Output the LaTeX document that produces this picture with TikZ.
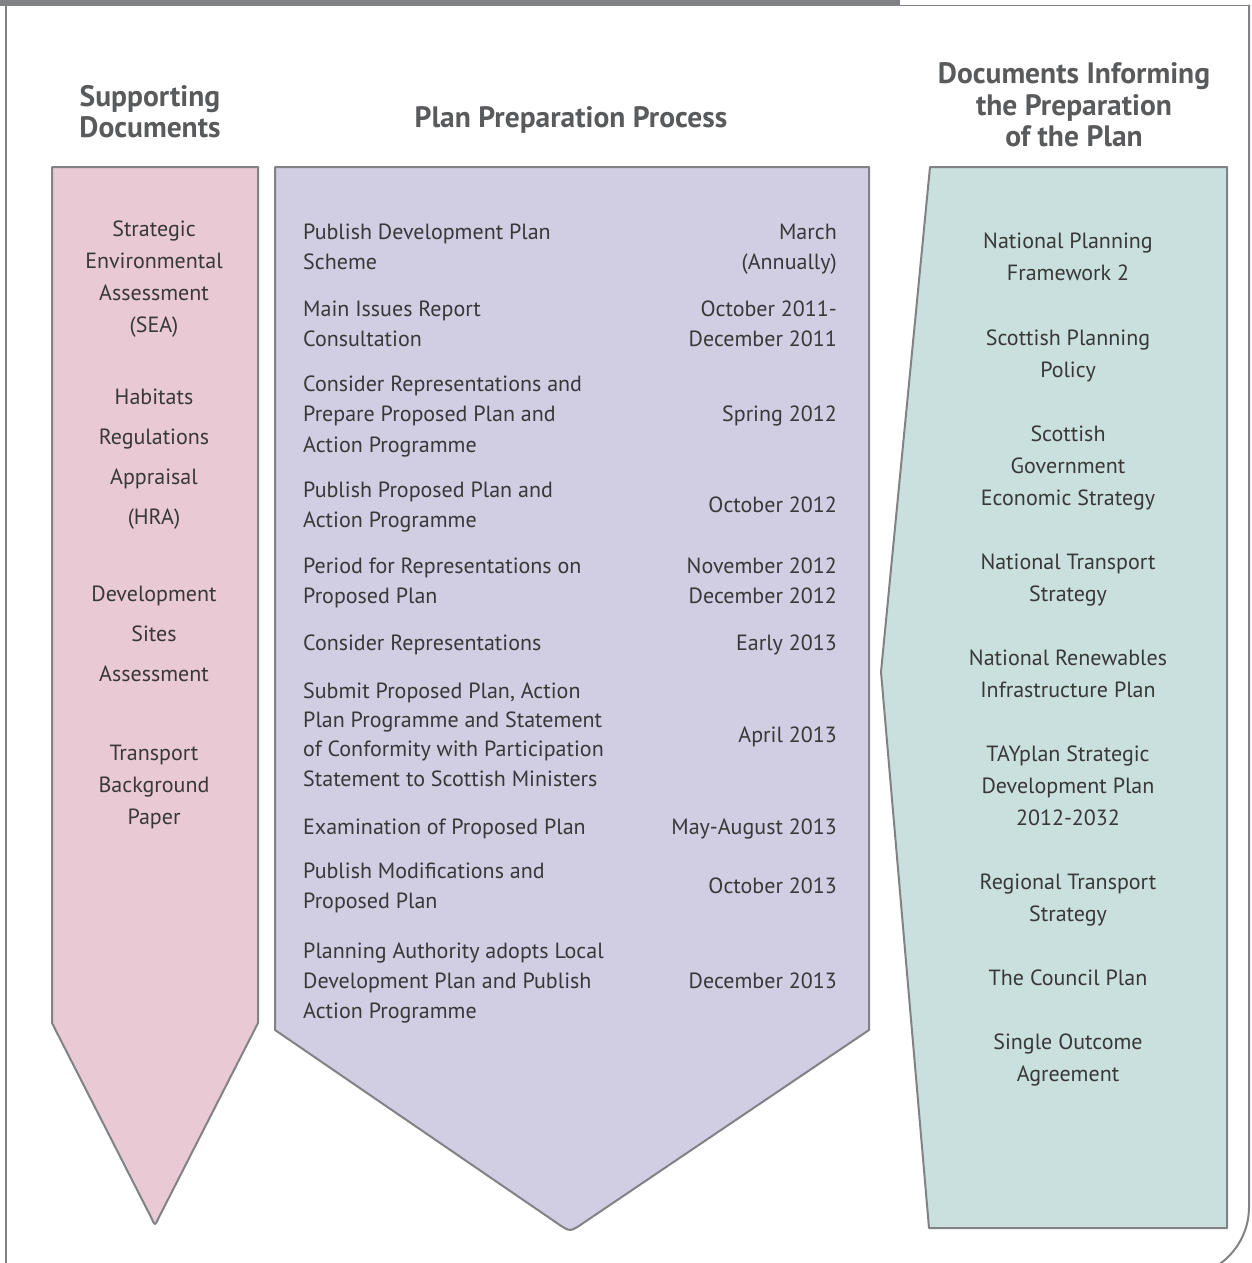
\documentclass[tikz,border=0pt]{standalone}
\usepackage{fontspec}
\setmainfont{PT Sans}
\definecolor{framegray}{HTML}{808285}
\definecolor{pinkfill}{HTML}{E9C9D4}
\definecolor{purplefill}{HTML}{D1CDE2}
\definecolor{tealfill}{HTML}{CAE0DE}
\definecolor{textc}{HTML}{383838}
\definecolor{headc}{HTML}{595A5C}
\begin{document}
\begin{tikzpicture}[x=1pt,y=-1pt,
  frame/.style={draw=framegray, line width=2pt},
  panel/.style={draw=framegray, line width=2pt, line join=round},
  body/.style={font=\fontsize{22}{26}\selectfont, text=textc, inner sep=0pt, anchor=base},
  head/.style={font=\fontsize{29.5}{32}\selectfont\bfseries, text=headc, inner sep=0pt, anchor=base}]
\useasboundingbox (0,0) rectangle (1252,1263);
\clip (0,0) rectangle (1252,1263);
% outer frame
\fill[framegray] (0,0) rectangle (900,5);
\draw[framegray, line width=1.5pt] (0,5.5) -- (1249,5.5);
\draw[frame] (6,1270) -- (6,5);
\draw[frame, rounded corners=70pt] (1249,5) -- (1249,1277) -- (1100,1277);
% panels
\path[panel, fill=pinkfill] (52,167) -- (258,167) -- (258,1023) -- (158.6,1217.9)
  .. controls (155,1226) .. (151.4,1217.9) -- (52,1023) -- cycle;
\path[panel, fill=purplefill] (275,167) -- (869,167) -- (869,1030) -- (582.4,1223.6)
  .. controls (570,1232) .. (557.6,1223.5) -- (275,1030) -- cycle;
\path[panel, fill=tealfill] (930,167) -- (1227,167) -- (1227,1228) -- (929,1228) -- (881,672) -- cycle;
% headings
\node[head] (h1a) at (150,106) {Supporting};
\node[head] (h1b) at (150,137) {Documents};
\node[head] (h2) at (571,127) {Plan Preparation Process};
\node[head] (h3a) at (1074,84) {Documents Informing};
\node[head] (h3b) at (1074,115) {the Preparation};
\node[head] (h3c) at (1074,146) {of the Plan};
% left column
\foreach \t/\yy [count=\i] in {Strategic/236, Environmental/268, Assessment/300, (SEA)/332,
  Habitats/404, Regulations/444, Appraisal/484, (HRA)/524,
  Development/601, Sites/641, Assessment/681,
  Transport/760, Background/792, Paper/824}
  \node[body] (sd\i) at (154,\yy) {\t};
% middle column, left texts
\foreach \t/\yy [count=\i] in {Publish Development Plan/239, Scheme/269,
  Main Issues Report/316, Consultation/346,
  Consider Representations and/391, Prepare Proposed Plan and/421, Action Programme/452,
  Publish Proposed Plan and/497, Action Programme/527,
  Period for Representations on/573, Proposed Plan/603,
  Consider Representations/650,
  {Submit Proposed Plan, Action}/698, Plan Programme and Statement/727,
  of Conformity with Participation/756, Statement to Scottish Ministers/786,
  Examination of Proposed Plan/834,
  Publish Modifications and/878, Proposed Plan/908,
  Planning Authority adopts Local/958, Development Plan and Publish/988, Action Programme/1018}
  \node[body, anchor=base west] (pp\i) at (303,\yy) {\t};
% middle column, dates
\foreach \t/\yy [count=\i] in {March/239, (Annually)/269,
  October 2011-/316, December 2011/346,
  Spring 2012/421, October 2012/512,
  November 2012/573, December 2012/603,
  Early 2013/650, April 2013/742, May-August 2013/834,
  October 2013/893, December 2013/988}
  \node[body, anchor=base east] (dt\i) at (837,\yy) {\t};
% right column
\foreach \t/\yy [count=\i] in {National Planning/248, Framework 2/280,
  Scottish Planning/345, Policy/377,
  Scottish/441, Government/473, Economic Strategy/505,
  National Transport/569, Strategy/601,
  National Renewables/665, Infrastructure Plan/697,
  TAYplan Strategic/761, Development Plan/793, 2012-2032/825,
  Regional Transport/889, Strategy/921,
  The Council Plan/985,
  Single Outcome/1049, Agreement/1081}
  \node[body] (ri\i) at (1068,\yy) {\t};
\end{tikzpicture}
\end{document}
